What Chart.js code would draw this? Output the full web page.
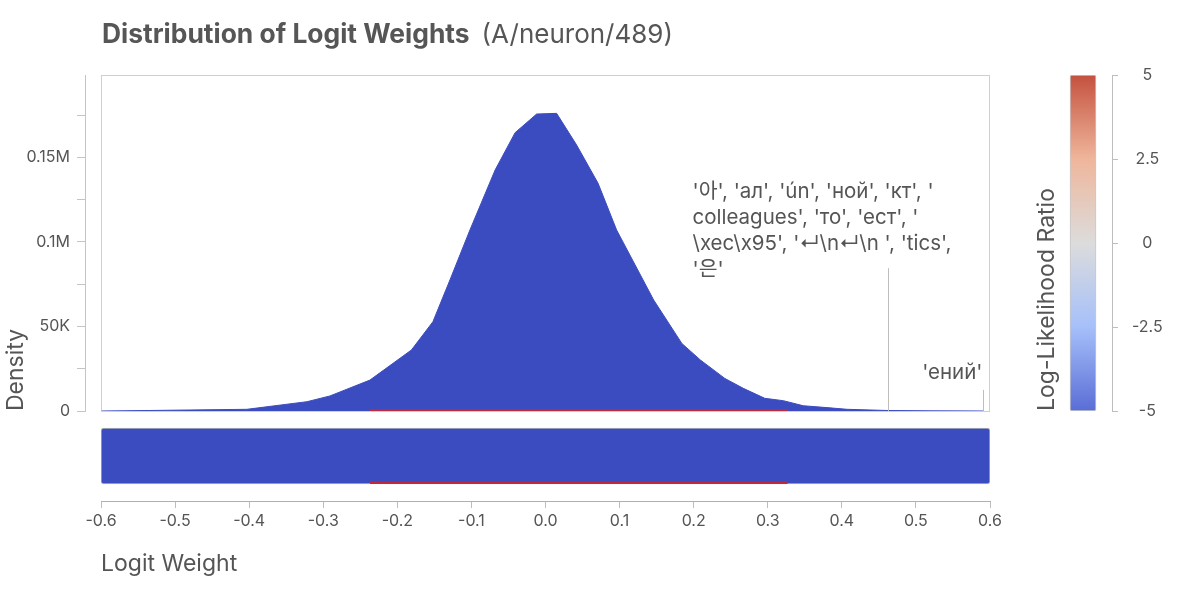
<!DOCTYPE html>
<html>
<head>
<meta charset="utf-8">
<script src="https://cdn.jsdelivr.net/npm/chart.js@4.4.1/dist/chart.umd.min.js"></script>
<style>
html,body{margin:0;padding:0;background:#fff;}
#wrap{position:relative;width:1188px;height:594px;overflow:hidden;font-family:Inter,'Noto Sans CJK KR',sans-serif;color:#565656;}
#title{position:absolute;left:102px;top:17px;font-size:26.4px;line-height:32px;white-space:nowrap;}
#title b{font-weight:700;}
#title span{font-weight:400;font-size:26px;margin-left:12px;}
#main{position:absolute;left:0;top:0;width:1188px;height:594px;}
#cbar{position:absolute;left:1000px;top:0;width:188px;height:594px;}
</style>
</head>
<body>
<div id="wrap">
<canvas id="main" width="1188" height="594"></canvas>
<canvas id="cbar" width="188" height="594"></canvas>
<div id="title"><b>Distribution of Logit Weights</b><span>(A/neuron/489)</span></div>
</div>
<script>
// ---- data ----
const logitX = [-0.599, -0.534, -0.480, -0.403, -0.376, -0.322, -0.291, -0.237, -0.181, -0.152, -0.129, -0.102,
  -0.068, -0.041, -0.012, 0.015, 0.042, 0.071, 0.096, 0.146, 0.184, 0.209, 0.242, 0.267, 0.296, 0.321,
  0.348, 0.380, 0.407, 0.461, 0.519, 0.591];
const densityY = [0, 300, 600, 1000, 2500, 5500, 8900, 18300, 36100, 52800, 77500, 107100,
  142600, 164700, 175700, 176100, 157400, 134700, 107100, 65700, 40000, 30200, 19300, 13400, 7500, 6100,
  3100, 2000, 1000, 300, 100, 0];
const positiveX = [-0.237, 0.327];
const positiveDensity = [1200, 1200];
const positiveStripShare = [0.04, 0.04];
const stripRange = [-0.6, 0.6];
const xTickValues = [-0.6, -0.5, -0.4, -0.3, -0.2, -0.1, 0, 0.1, 0.2, 0.3, 0.4, 0.5, 0.6];
const densityTickValues = [0, 25000, 50000, 75000, 100000, 125000, 150000, 175000];
const densityTickLabels = ['0', '', '50K', '', '0.1M', '', '0.15M', ''];
const densityMax = 198800;
const llrRange = [-5, 5];
const llrTickValues = [-5, -2.5, 0, 2.5, 5];
const llrTickLabels = ['-5', '-2.5', '0', '2.5', '5'];
const annotationX = [0.462, 0.591];
const annotationTop = [84500, 12500];
const annotationText = [
  ["'아', 'ал', 'ún', 'ной', 'кт', '", "colleagues', 'то', 'ест', '", "\\xec\\x95', '↵\\n↵\\n ', 'tics',", "'은'"],
  ["'ений'"]
];

// ---- styling ----
const FONT = "Inter, 'Noto Sans CJK KR', 'Noto Sans', sans-serif";
Chart.defaults.font.family = FONT;
Chart.defaults.font.size = 16;
Chart.defaults.color = '#555';
const BLUE = '#3b4cc0';
const RED = '#c0283c';

const framePlugin = {
  id: 'frame',
  beforeDatasetsDraw(chart) {
    const {ctx} = chart;
    const x = chart.scales.x, y = chart.scales.y;
    ctx.save();
    ctx.strokeStyle = '#cfcfcf';
    ctx.lineWidth = 1;
    const l = Math.round(x.left) + 0.5, r = Math.round(x.right) - 0.5;
    const t = Math.round(y.top) + 0.5, b = Math.round(y.bottom) + 0.5;
    ctx.strokeRect(l, t, r - l, b - t);
    ctx.restore();
  }
};

const annotationPlugin = {
  id: 'annotations',
  afterDatasetsDraw(chart) {
    const {ctx} = chart;
    const x = chart.scales.x, y = chart.scales.y;
    ctx.save();
    annotationX.forEach((ax, i) => {
      const px = Math.round(x.getPixelForValue(ax)) + 0.5;
      const pt = y.getPixelForValue(annotationTop[i]);
      const pb = y.getPixelForValue(0);
      ctx.strokeStyle = '#bdbdbd';
      ctx.lineWidth = 1;
      ctx.beginPath();
      ctx.moveTo(px, pt);
      ctx.lineTo(px, pb);
      ctx.stroke();
      ctx.fillStyle = '#555';
      ctx.font = '20.5px ' + FONT;
      ctx.textBaseline = 'middle';
      const lines = annotationText[i];
      if (lines.length > 1) {
        ctx.textAlign = 'left';
        lines.forEach((l, j) => ctx.fillText(l, px - 196, pt - 76 + 26 * j));
      } else {
        ctx.textAlign = 'right';
        ctx.fillText(lines[0], px - 1, pt - 17);
      }
    });
    ctx.restore();
  }
};

new Chart(document.getElementById('main'), {
  type: 'line',
  data: {
    datasets: [
      {
        label: 'positive LLR',
        data: positiveX.map((x, i) => ({x, y: positiveDensity[i]})),
        yAxisID: 'y', borderWidth: 0, pointRadius: 0, fill: 'origin',
        backgroundColor: RED, order: 0
      },
      {
        label: 'positive LLR strip',
        data: positiveX.map((x, i) => ({x, y: positiveStripShare[i]})),
        yAxisID: 'yStrip', borderWidth: 0, pointRadius: 0, fill: 'origin',
        backgroundColor: RED, order: 0
      },
      {
        label: 'density',
        data: logitX.map((x, i) => ({x, y: densityY[i]})),
        yAxisID: 'y', borderColor: BLUE, borderWidth: 1, pointRadius: 0,
        fill: 'origin', backgroundColor: BLUE, tension: 0, order: 1
      },
      {
        type: 'bar',
        label: 'strip',
        data: [{x: stripRange, y: 0.5}],
        indexAxis: 'y', xAxisID: 'x', yAxisID: 'yStrip',
        backgroundColor: BLUE, borderColor: '#b5b5b5', borderWidth: 1,
        borderRadius: 3, borderSkipped: false, barThickness: 56, order: 2
      }
    ]
  },
  options: {
    responsive: false,
    animation: false,
    layout: {padding: {left: 0, right: 198, top: 75, bottom: 0}},
    plugins: {legend: {display: false}, tooltip: {enabled: false}, title: {display: false}},
    scales: {
      x: {
        type: 'linear', min: -0.6, max: 0.6, stacked: false, offset: false,
        afterBuildTicks: s => { s.ticks = xTickValues.map(v => ({value: v})); },
        ticks: {
          padding: 4, font: {size: 16}, color: '#555',
          callback: v => (Math.abs(v) < 1e-9 ? 0 : v).toFixed(1)
        },
        grid: {drawOnChartArea: false, tickLength: 7, color: '#bdbdbd'},
        border: {color: '#b0b0b0'},
        title: {display: true, text: 'Logit Weight', align: 'start', font: {size: 23}, color: '#555', padding: {top: 0, bottom: 16}},
        afterFit: s => { s.height = 93; }
      },
      y: {
        type: 'linear', position: 'left', stack: 'v', stackWeight: 336, weight: 10,
        min: 0, max: densityMax,
        afterBuildTicks: s => { s.ticks = densityTickValues.map(v => ({value: v})); },
        ticks: {padding: 7, font: {size: 16}, color: '#555', callback: (v, i) => densityTickLabels[i]},
        grid: {drawOnChartArea: false, tickLength: 8, color: '#c4c4c4'},
        border: {color: '#c4c4c4'},
        title: {display: true, text: 'Density', align: 'start', font: {size: 23}, color: '#555', padding: {top: 2, bottom: 0}},
        afterFit: s => { s.width = 85; }
      },
      yStrip: {
        type: 'linear', position: 'left', stack: 'v', stackWeight: 90, weight: 9,
        min: -0.304, max: 1.304, offset: false,
        ticks: {display: false}, grid: {display: false, offset: false}, border: {display: false},
        afterFit: s => { s.width = 85; }
      },
      ySpacer: {
        type: 'linear', position: 'left', weight: 0,
        ticks: {display: false}, grid: {display: false}, border: {display: false},
        afterFit: s => { s.width = 16; }
      }
    }
  },
  plugins: [framePlugin, annotationPlugin]
});

new Chart(document.getElementById('cbar'), {
  type: 'bar',
  data: {
    labels: ['Log-Likelihood Ratio'],
    datasets: [{
      data: [llrRange],
      backgroundColor: (c) => {
        const ca = c.chart.chartArea;
        if (!ca) return '#ddd';
        const g = c.chart.ctx.createLinearGradient(0, ca.bottom, 0, ca.top);
        g.addColorStop(0, '#5a6dd6');
        g.addColorStop(0.25, '#a6c0fa');
        g.addColorStop(0.5, '#dcdcdc');
        g.addColorStop(0.75, '#efb69b');
        g.addColorStop(1, '#c4513f');
        return g;
      },
      borderColor: '#c8c8c8', borderWidth: 1, borderRadius: 2, borderSkipped: false,
      barThickness: 26
    }]
  },
  options: {
    responsive: false,
    animation: false,
    layout: {padding: {left: 31, right: 16, top: 75, bottom: 183}},
    plugins: {legend: {display: false}, tooltip: {enabled: false}},
    scales: {
      x: {display: false},
      y: {
        type: 'linear', position: 'right', min: llrRange[0], max: llrRange[1],
        afterBuildTicks: s => { s.ticks = llrTickValues.map(v => ({value: v})); },
        ticks: {padding: 14, crossAlign: 'center', font: {size: 16}, color: '#555', callback: (v, i) => llrTickLabels[i]},
        grid: {drawOnChartArea: false, tickLength: 6, color: '#bdbdbd'},
        border: {color: '#bdbdbd'},
        afterFit: s => { s.width = 60; }
      },
      yTitle: {
        type: 'linear', position: 'left', min: llrRange[0], max: llrRange[1],
        ticks: {display: false}, grid: {display: false}, border: {display: false},
        title: {display: true, text: 'Log-Likelihood Ratio', align: 'start', font: {size: 23}, color: '#555', padding: {top: 2, bottom: 0}},
        afterFit: s => { s.width = 23; }
      }
    }
  }
});
</script>
</body>
</html>
